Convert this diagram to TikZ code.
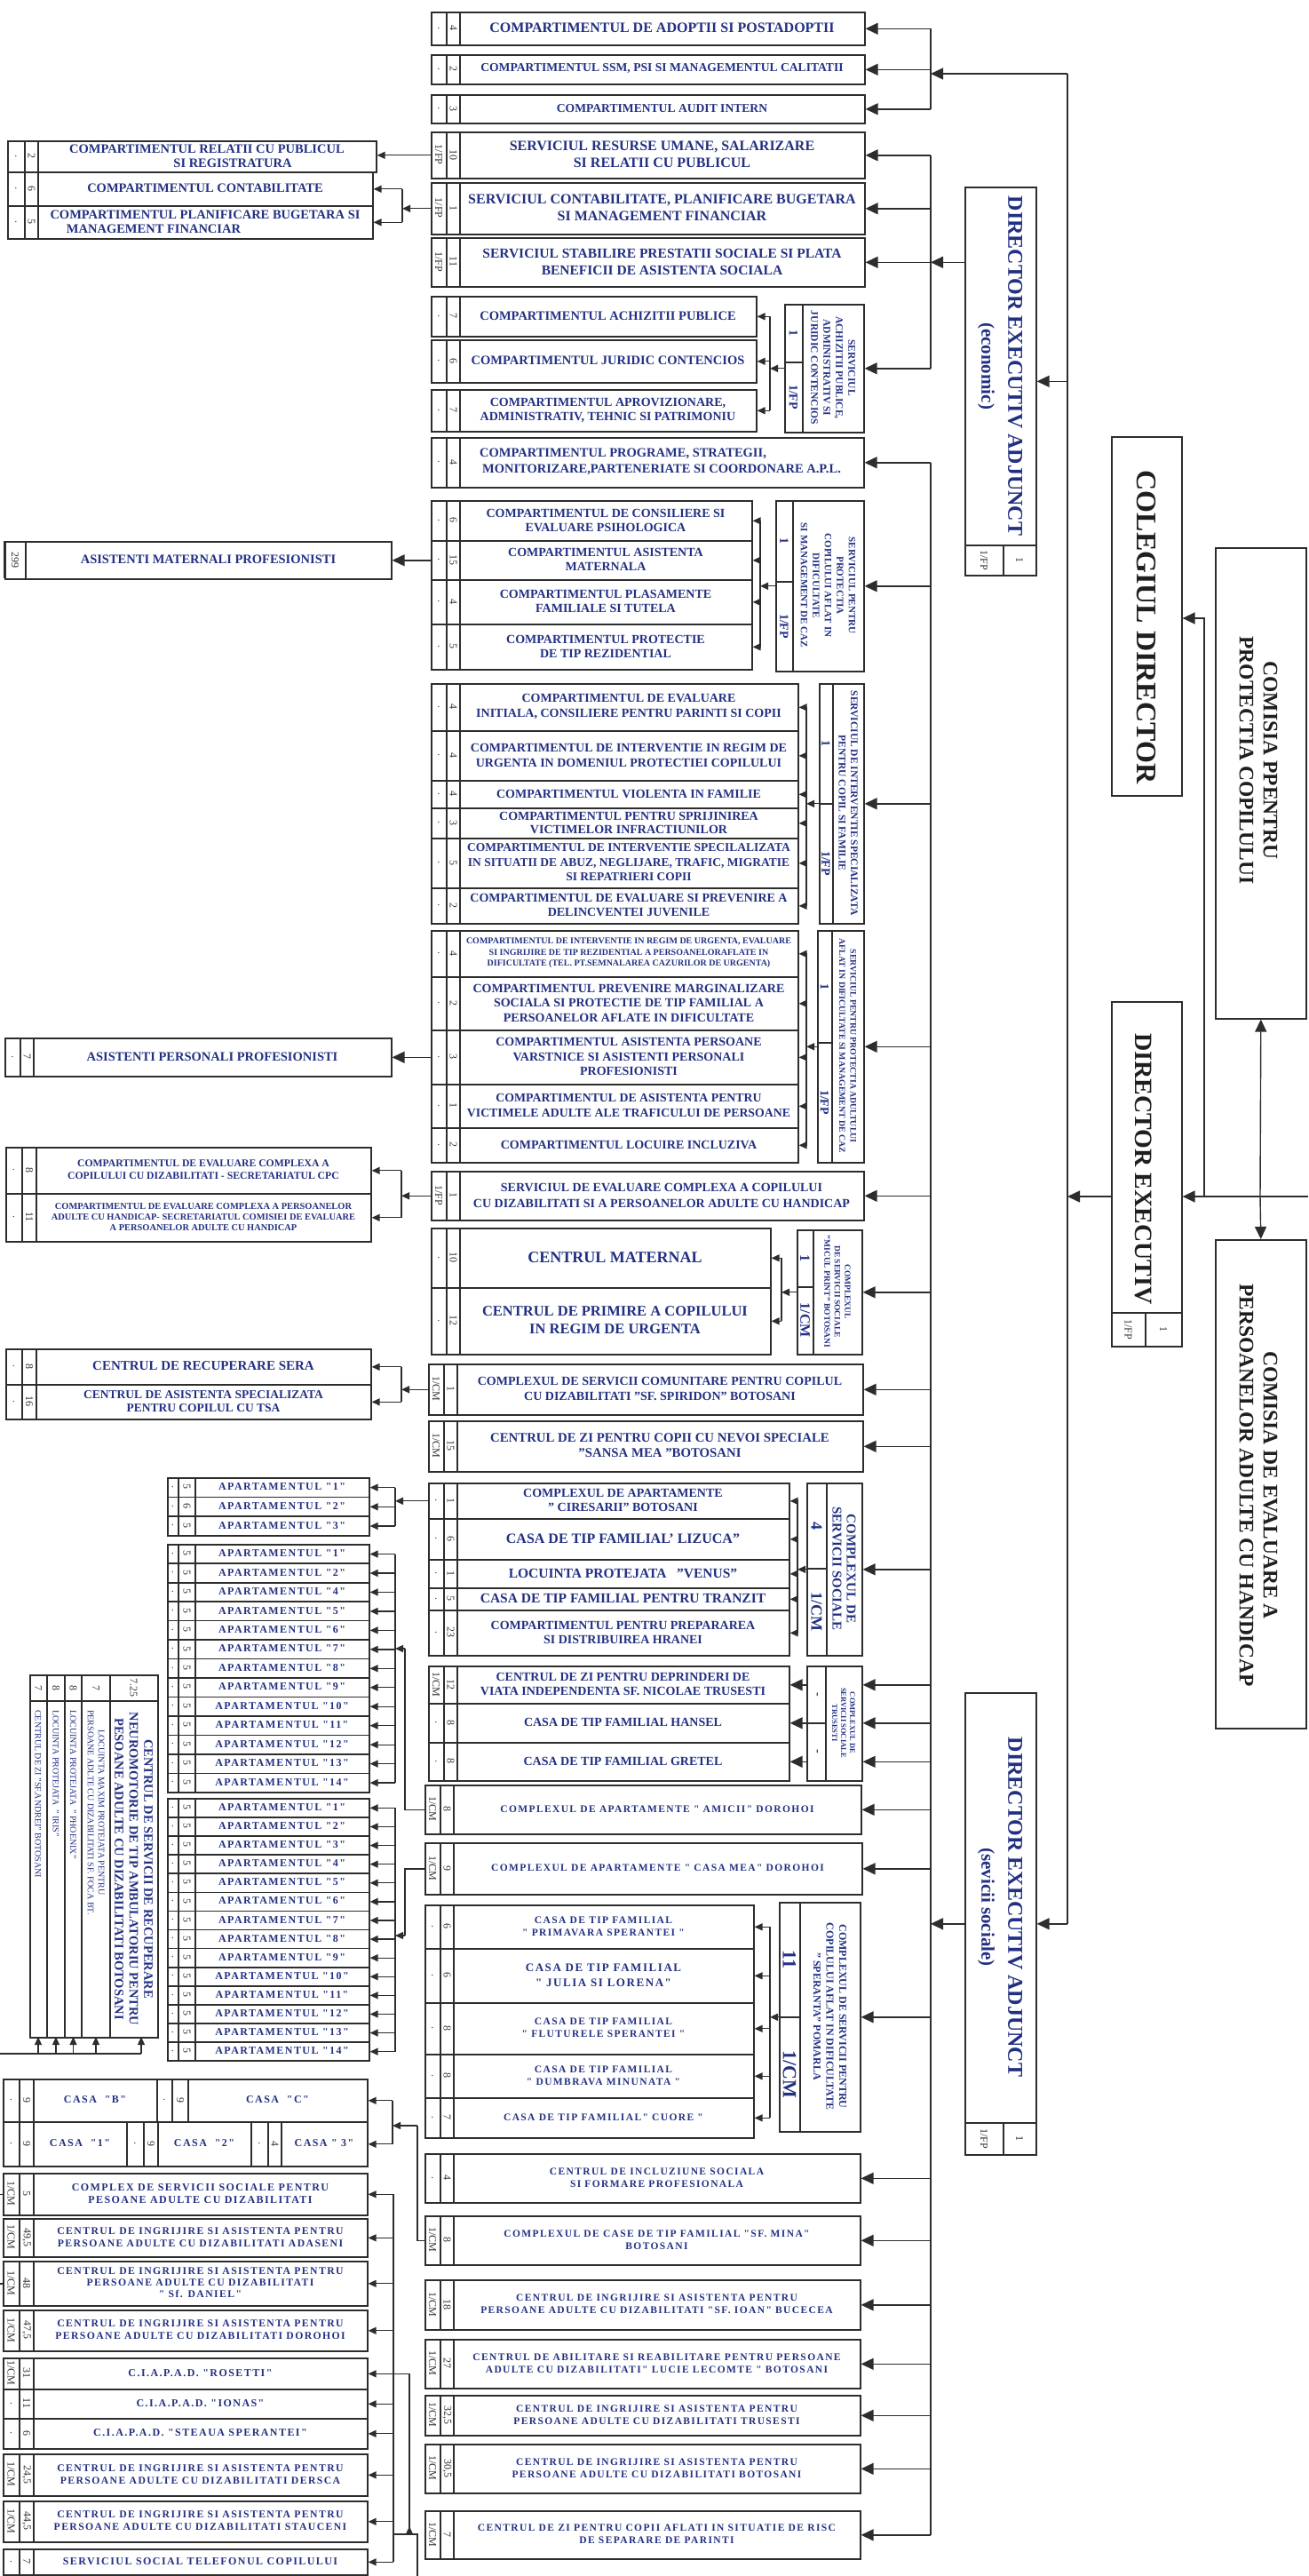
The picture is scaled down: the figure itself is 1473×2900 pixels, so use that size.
\documentclass[tikz,border=0pt]{standalone}
\usepackage{fontspec}
\setmainfont{Liberation Serif}
\newfontfamily\wide{Liberation Serif}[LetterSpace=12]
\usetikzlibrary{arrows.meta,calc}
\definecolor{lc}{RGB}{45,45,45}
\definecolor{tc}{RGB}{34,48,130}
\newcommand\F[2]{\fontsize{#1}{#2}\selectfont}
\def\cwa{18}\def\cwb{15}
\tikzset{
  bx/.style={draw=lc,line width=1.6pt,inner sep=0pt,anchor=north west},
  cl/.style={draw=lc,line width=1.3pt},
  tx/.style={text=tc,font=\bfseries,align=center,inner sep=0pt},
  bk/.style={text=black!88,font=\bfseries,align=center,inner sep=0pt},
  num/.style={rotate=-90,text=black!80,font=\F{12}{12},inner sep=0pt},
  ar/.style={draw=lc,line width=1.4pt,-{Triangle[length=14pt,width=13pt]}},
  sar/.style={draw=lc,line width=1.3pt,-{Triangle[length=9pt,width=8pt]}},
  ln/.style={draw=lc,line width=1.4pt},
}
\newcommand\rowb[9]{%
  \pgfmathsetmacro\rW{#4-#2}\pgfmathsetmacro\rH{#5-#3}%
  \pgfmathsetmacro\xA{#2+\cwa}\pgfmathsetmacro\xB{#2+\cwa+\cwb}%
  \pgfmathsetmacro\xM{(\xB+#4)/2}\pgfmathsetmacro\yM{(#3+#5)/2}%
  \pgfmathsetmacro\xCa{(#2+\xA)/2}\pgfmathsetmacro\xCb{(\xA+\xB)/2}%
  \node[bx,minimum width=\rW pt,minimum height=\rH pt] (#1) at (#2,#3) {};
  \draw[cl] (\xA,#3) -- (\xA,#5) (\xB,#3) -- (\xB,#5);
  \node[num] (#1-n1) at (\xCa,\yM) {#6};
  \node[num] (#1-n2) at (\xCb,\yM) {#7};
  \node[tx,font=\bfseries#8] (#1-t) at (\xM,\yM) {#9};
}
\newcommand\servb[9]{%
  \pgfmathsetmacro\rW{#4-#2}\pgfmathsetmacro\rH{#5-#3}%
  \pgfmathsetmacro\xCa{(#2+#6)/2}\pgfmathsetmacro\yTa{(#3+#7)/2}\pgfmathsetmacro\yTb{(#7+#5)/2}%
  \node[bx,minimum width=\rW pt,minimum height=\rH pt] (#1) at (#2,#3) {};
  \draw[cl] (#6,#3) -- (#6,#5) (#2,#7) -- (#6,#7);
  \node[tx,rotate=-90] (#1-a) at (\xCa,\yTa) {#8};
  \node[tx,rotate=-90] (#1-b) at (\xCa,\yTb) {#9};
}
\begin{document}
\begin{tikzpicture}[x=1pt,y=-1pt]
\useasboundingbox (0,0) rectangle (1473,2900);
% ================= CENTER COLUMN (top) =================
\rowb{r1}{485}{13}{973}{50}{.}{4}{\F{16}{18}}{COMPARTIMENTUL DE ADOPTII SI POSTADOPTII}
\rowb{r2}{485}{61}{973}{94}{.}{2}{\F{13.6}{16}}{COMPARTIMENTUL SSM, PSI SI MANAGEMENTUL CALITATII}
\rowb{r3}{485}{106}{973}{138}{.}{3}{\F{13.6}{16}}{COMPARTIMENTUL AUDIT INTERN}
\rowb{r4}{485}{148}{973}{200}{1/FP}{10}{\F{16}{19}}{SERVICIUL RESURSE UMANE, SALARIZARE\\SI RELATII CU PUBLICUL}
\rowb{r5}{485}{205}{973}{263}{1/FP}{1}{\F{16}{19}}{SERVICIUL CONTABILITATE, PLANIFICARE BUGETARA\\SI MANAGEMENT FINANCIAR}
\rowb{r6}{485}{267}{973}{322}{1/FP}{11}{\F{15.5}{19}}{SERVICIUL STABILIRE PRESTATII SOCIALE SI PLATA\\BENEFICII DE ASISTENTA SOCIALA}
% achizitii
\rowb{a1}{485}{333}{851}{378}{.}{7}{\F{14.5}{17}}{COMPARTIMENTUL ACHIZITII PUBLICE}
\rowb{a2}{485}{382}{851}{430}{.}{6}{\F{14.5}{17}}{COMPARTIMENTUL JURIDIC CONTENCIOS}
\rowb{a3}{485}{438}{851}{485}{.}{7}{\F{14}{16}}{COMPARTIMENTUL APROVIZIONARE,\\ADMINISTRATIV, TEHNIC SI PATRIMONIU}
\servb{sA}{883}{342}{972}{486}{904}{408}{\F{14}{14}1}{\F{14}{14}1/FP}
\node[tx,rotate=-90,font=\bfseries\F{11.5}{14}] (sA-x) at (938,414) {SERVICIUL\\ACHIZITII PUBLICE,\\ADMINISTRATIV SI\\JURIDIC CONTENCIOS};
\coordinate (bA) at (867,0);
\draw[ln] (bA |- a1.east) -- (bA |- a3.east);
\foreach \n in {a1,a2,a3} \draw[sar] (bA |- \n.east) -- (\n.east);
\draw[sar] (sA.west) -- (bA |- sA.west);
\rowb{r7}{485}{492}{972}{548}{.}{4}{\F{14.5}{18}}{COMPARTIMENTUL PROGRAME, STRATEGII,\hspace*{87pt}\\MONITORIZARE,PARTENERIATE SI COORDONARE A.P.L.}
% consiliere
\rowb{c1}{485}{563}{846}{608}{.}{6}{\F{14}{16}}{COMPARTIMENTUL  DE CONSILIERE SI\\EVALUARE  PSIHOLOGICA}
\rowb{c2}{485}{608}{846}{652}{.}{15}{\F{14}{16}}{COMPARTIMENTUL  ASISTENTA\\MATERNALA}
\rowb{c3}{485}{652}{846}{702}{.}{4}{\F{14}{16}}{COMPARTIMENTUL PLASAMENTE\\FAMILIALE SI TUTELA}
\rowb{c4}{485}{702}{846}{753}{.}{5}{\F{14}{16}}{COMPARTIMENTUL PROTECTIE\\DE TIP REZIDENTIAL}
\servb{sB}{873}{563}{972}{755}{893}{655}{\F{14}{14}1}{\F{14}{14}1/FP}
\node[tx,rotate=-90,font=\bfseries\F{11}{13.5}] (sB-x) at (932.5,659) {SERVICIUL PENTRU\\PROTECTIA\\COPILULUI AFLAT IN\\DIFICULTATE\\SI MANAGEMENT DE CAZ};
\coordinate (bB) at (856,0);
\draw[ln] (bB |- c1.east) -- (bB |- c4.east);
\foreach \n in {c1,c2,c3,c4} \draw[sar] (bB |- \n.east) -- (\n.east);
\draw[sar] (sB.west) -- (bB |- sB.west);
% evaluare initiala
\rowb{e1}{485}{769}{898}{822}{.}{4}{\F{14}{17}}{COMPARTIMENTUL DE EVALUARE\\INITIALA, CONSILIERE PENTRU PARINTI SI COPII}
\rowb{e2}{485}{822}{898}{878}{.}{4}{\F{14}{17}}{COMPARTIMENTUL DE INTERVENTIE IN REGIM DE\\URGENTA  IN DOMENIUL PROTECTIEI COPILULUI}
\rowb{e3}{485}{878}{898}{909}{.}{4}{\F{14}{17}}{COMPARTIMENTUL VIOLENTA IN FAMILIE}
\rowb{e4}{485}{909}{898}{943}{.}{3}{\F{14}{15}}{COMPARTIMENTUL PENTRU SPRIJINIREA\\VICTIMELOR INFRACTIUNILOR}
\rowb{e5}{485}{943}{898}{999}{.}{5}{\F{13.5}{16.5}}{COMPARTIMENTUL DE INTERVENTIE SPECILALIZATA\\IN SITUATII DE ABUZ, NEGLIJARE, TRAFIC, MIGRATIE\\SI REPATRIERI COPII}
\rowb{e6}{485}{999}{898}{1039}{.}{2}{\F{14}{16}}{COMPARTIMENTUL DE EVALUARE SI PREVENIRE A\\DELINCVENTEI JUVENILE}
\servb{sC}{922}{769}{972}{1039}{938}{905}{\F{14}{14}1}{\F{14}{14}1/FP}
\node[tx,rotate=-90,font=\bfseries\F{11.5}{13.5}] (sC-x) at (955,904) {SERVICIUL DE INTERVENTIE SPECIALIZATA\\PENTRU COPIL SI FAMILIE};
\coordinate (bC) at (908,0);
\draw[ln] (bC |- e1.east) -- (bC |- e6.east);
\foreach \n in {e1,e2,e3,e4,e5,e6} \draw[sar] (bC |- \n.east) -- (\n.east);
\draw[sar] (sC.west) -- (bC |- sC.west);
% persoane aflate in dificultate
\rowb{p1}{485}{1047}{898}{1099}{.}{4}{\F{10}{12.5}}{COMPARTIMENTUL DE INTERVENTIE IN REGIM DE URGENTA, EVALUARE\\SI INGRIJIRE DE TIP REZIDENTIAL A PERSOANELORAFLATE IN\\DIFICULTATE (TEL. PT.SEMNALAREA CAZURILOR DE URGENTA)}
\rowb{p2}{485}{1099}{898}{1159}{.}{2}{\F{14}{16.5}}{COMPARTIMENTUL  PREVENIRE  MARGINALIZARE\\SOCIALA SI PROTECTIE  DE TIP FAMILIAL  A\\PERSOANELOR AFLATE IN  DIFICULTATE}
\rowb{p3}{485}{1159}{898}{1220}{.}{3}{\F{14}{16.5}}{COMPARTIMENTUL ASISTENTA  PERSOANE\\VARSTNICE  SI ASISTENTI PERSONALI\\PROFESIONISTI}
\rowb{p4}{485}{1220}{898}{1269}{.}{1}{\F{13.8}{17}}{COMPARTIMENTUL DE ASISTENTA PENTRU\\VICTIMELE ADULTE ALE TRAFICULUI DE PERSOANE}
\rowb{p5}{485}{1269}{898}{1308}{.}{2}{\F{14}{17}}{COMPARTIMENTUL LOCUIRE INCLUZIVA}
\servb{sD}{920}{1047}{972}{1308}{937}{1174}{\F{14}{14}1}{\F{14}{14}1/FP}
\node[tx,rotate=-90,font=\bfseries\F{9.8}{12.5}] (sD-x) at (954.5,1177.5) {SERVICIUL PENTRU PROTECTIA ADULTULUI\\AFLAT IN DIFICULTATE SI MANAGEMENT DE CAZ};
\coordinate (bD) at (908,0);
\draw[ln] (bD |- p1.east) -- (bD |- p5.east);
\foreach \n in {p1,p2,p3,p4,p5} \draw[sar] (bD |- \n.east) -- (\n.east);
\draw[sar] (sD.west) -- (bD |- sD.west);
\rowb{r8}{485}{1318}{972}{1373}{1/FP}{1}{\F{14}{18}}{SERVICIUL DE EVALUARE COMPLEXA A COPILULUI\\CU DIZABILITATI SI A PERSOANELOR  ADULTE CU HANDICAP}
% maternal
\rowb{m1}{485}{1382}{867}{1449}{.}{10}{\F{18}{20}}{CENTRUL MATERNAL}
\rowb{m2}{485}{1449}{867}{1524}{.}{12}{\F{16.5}{20}}{CENTRUL DE PRIMIRE A COPILULUI\\IN REGIM DE URGENTA}
\servb{sE}{897}{1384}{970}{1524}{916}{1449}{\F{16}{16}1}{\F{16}{16}1/CM}
\node[tx,rotate=-90,font=\bfseries\F{9.5}{11.5}] (sE-x) at (943,1454) {COMPLEXUL\\DE SERVICII SOCIALE\\"MICUL PRINT" BOTOSANI};
\coordinate (bE) at (880,0);
\draw[ln] (bE |- m1.east) -- (bE |- m2.east);
\foreach \n in {m1,m2} \draw[sar] (bE |- \n.east) -- (\n.east);
\draw[sar] (sE.west) -- (bE |- sE.west);
\rowb{r9}{482}{1535}{971}{1592}{1/CM}{1}{\F{14}{17}}{COMPLEXUL DE SERVICII COMUNITARE PENTRU COPILUL\\CU DIZABILITATI "SF. SPIRIDON" BOTOSANI}
\rowb{r10}{482}{1599}{971}{1656}{1/CM}{15}{\F{14.8}{17}}{CENTRUL DE ZI PENTRU COPII CU NEVOI SPECIALE\\"SANSA MEA "BOTOSANI}
% ciresarii
\rowb{f1}{482}{1669}{888}{1709}{.}{1}{\F{14}{16}}{COMPLEXUL DE APARTAMENTE\\" CIRESARII" BOTOSANI}
\rowb{f2}{482}{1709}{888}{1755}{.}{6}{\F{16}{18}}{CASA DE TIP FAMILIAL' LIZUCA"}
\rowb{f3}{482}{1755}{888}{1787}{.}{1}{\F{15.5}{18}}{LOCUINTA PROTEJATA~~~"VENUS"}
\rowb{f4}{482}{1787}{888}{1812}{.}{5}{\F{15.5}{18}}{CASA DE TIP FAMILIAL PENTRU TRANZIT}
\rowb{f5}{482}{1812}{888}{1863}{.}{23}{\F{14}{16}}{COMPARTIMENTUL PENTRU PREPARAREA\\SI DISTRIBUIREA HRANEI}
\servb{sF}{908}{1669}{970}{1863}{931}{1766}{\F{18}{18}4}{\F{18}{18}1/CM}
\node[tx,rotate=-90,font=\bfseries\F{15}{16}] (sF-x) at (950.5,1766) {COMPLEXUL DE\\SERVICII SOCIALE};
\coordinate (bF) at (898,0);
\draw[ln] (bF |- f1.east) -- (bF |- f5.east);
\foreach \n in {f1,f2,f3,f4,f5} \draw[sar] (bF |- \n.east) -- (\n.east);
\draw[sar] (sF.west) -- (bF |- sF.west);
% trusesti
\rowb{g1}{482}{1875}{888}{1917}{1/CM}{12}{\F{14}{16}}{CENTRUL DE ZI PENTRU DEPRINDERI DE\\VIATA INDEPENDENTA  SF. NICOLAE TRUSESTI}
\rowb{g2}{482}{1917}{888}{1961}{.}{8}{\F{14}{16}}{CASA DE TIP FAMILIAL  HANSEL}
\rowb{g3}{482}{1961}{888}{2004}{.}{8}{\F{14}{16}}{CASA DE TIP FAMILIAL  GRETEL}
\servb{sG}{908}{1875}{970}{2004}{930}{1940}{\F{14}{14}-}{\F{14}{14}-}
\node[tx,rotate=-90,font=\bfseries\F{8.5}{10}] (sG-x) at (950,1939.5) {COMPLEXUL DE\\SERVICII  SOCIALE\\TRUSESTI};
\foreach \n in {g1,g2,g3} \draw[ar] (sG.west |- \n.east) -- (\n.east);
% lower center (wide)
\rowb{r11}{478}{2009}{969}{2064}{1/CM}{8}{\wide\F{11.5}{14}}{COMPLEXUL DE APARTAMENTE " AMICII" DOROHOI}
\rowb{r12}{478}{2074}{970}{2132}{1/CM}{9}{\wide\F{11.5}{14}}{COMPLEXUL DE APARTAMENTE " CASA MEA" DOROHOI}
\rowb{h1}{478}{2144}{848}{2193}{.}{6}{\wide\F{11.5}{14}}{CASA DE TIP FAMILIAL\\" PRIMAVARA SPERANTEI "}
\rowb{h2}{478}{2193}{848}{2254}{.}{6}{\wide\F{13}{17}}{CASA DE TIP FAMILIAL\\" JULIA SI LORENA"}
\rowb{h3}{478}{2254}{848}{2312}{.}{8}{\wide\F{11.5}{14}}{CASA DE TIP FAMILIAL\\" FLUTURELE SPERANTEI "}
\rowb{h4}{478}{2312}{848}{2361}{.}{8}{\wide\F{11.5}{14}}{CASA DE TIP FAMILIAL\\" DUMBRAVA MINUNATA "}
\rowb{h5}{478}{2361}{848}{2406}{.}{7}{\wide\F{11.5}{14}}{CASA DE TIP FAMILIAL" CUORE "}
\servb{sH}{877}{2141}{968}{2399}{901}{2271}{\F{22}{22}11}{\F{22}{22}1/CM}
\node[tx,rotate=-90,font=\bfseries\F{12}{14.5}] (sH-x) at (934.5,2270) {COMPLEXUL DE SERVICII PENTRU\\COPILULUI AFLAT  IN DIFICULTATE\\" SPERANTA" POMARLA};
\coordinate (bH) at (867,0);
\draw[ln] (bH |- h1.east) -- (bH |- h5.east);
\foreach \n in {h1,h2,h3,h4,h5} \draw[sar] (bH |- \n.east) -- (\n.east);
\draw[sar] (sH.west) -- (bH |- sH.west);
\rowb{r13}{478}{2424}{968}{2479}{.}{4}{\wide\F{11.5}{14}}{CENTRUL DE INCLUZIUNE SOCIALA\\SI FORMARE PROFESIONALA}
\rowb{r14}{478}{2494}{968}{2549}{1/CM}{8}{\wide\F{11.5}{14}}{COMPLEXUL DE CASE DE TIP FAMILIAL "SF. MINA"\\BOTOSANI}
\rowb{r15}{478}{2566}{968}{2622}{1/CM}{18}{\wide\F{11.5}{14}}{CENTRUL DE INGRIJIRE SI ASISTENTA  PENTRU\\PERSOANE ADULTE CU DIZABILITATI  "SF. IOAN" BUCECEA}
\rowb{r16}{478}{2633}{968}{2688}{1/CM}{27}{\wide\F{11.5}{14}}{CENTRUL DE ABILITARE SI REABILITARE  PENTRU PERSOANE\\ADULTE CU DIZABILITATI" LUCIE LECOMTE " BOTOSANI}
\rowb{r17}{478}{2696}{968}{2741}{1/CM}{32,5}{\wide\F{11.5}{14}}{CENTRUL DE INGRIJIRE SI ASISTENTA  PENTRU\\PERSOANE ADULTE CU DIZABILITATI  TRUSESTI}
\rowb{r18}{478}{2751}{968}{2806}{1/CM}{30,5}{\wide\F{11.5}{14}}{CENTRUL DE INGRIJIRE SI ASISTENTA  PENTRU\\PERSOANE ADULTE CU DIZABILITATI  BOTOSANI}
\rowb{r19}{478}{2826}{968}{2880}{1/CM}{7}{\wide\F{11.5}{14}}{CENTRUL DE ZI PENTRU COPII AFLATI IN SITUATIE DE RISC\\DE SEPARARE DE PARINTI}
% ================= LEFT COLUMN =================
\def\cwa{20}\def\cwb{15}
\rowb{L1}{8}{158}{423}{193}{.}{2}{\F{14.5}{16}}{COMPARTIMENTUL RELATII CU PUBLICUL\\\hspace*{58pt}SI REGISTRATURA}
\rowb{L2}{8}{193}{419}{231}{.}{6}{\F{14.5}{16}}{COMPARTIMENTUL CONTABILITATE}
\rowb{L3}{8}{231}{419}{268}{.}{5}{\F{14.5}{16}}{COMPARTIMENTUL  PLANIFICARE BUGETARA SI\\MANAGEMENT FINANCIAR\hspace*{116pt}}
\draw[sar] (r4.west) -- (L1.east |- r4.west);
\coordinate (bL1) at (453,0);
\draw[ln] (bL1 |- L2.east) -- (bL1 |- L3.east);
\foreach \n in {L2,L3} \draw[sar] (bL1 |- \n.east) -- (\n.east);
\draw[sar] (r5.west) -- (bL1 |- r5.west);
\def\cwa{0}\def\cwb{24}
\rowb{L4}{5}{609}{440}{651}{}{299}{\F{14.5}{16}}{ASISTENTI MATERNALI PROFESIONISTI}
\draw[ar] (c2.west) -- (L4.east);
\def\cwa{18}\def\cwb{15}
\rowb{L5}{5}{1168}{440}{1211}{.}{7}{\F{14.5}{16}}{ASISTENTI PERSONALI PROFESIONISTI}
\draw[ar] (p3.west) -- (L5.east);
\def\cwa{19}\def\cwb{16}
\rowb{L6}{6}{1291}{417}{1343}{.}{8}{\F{11.7}{14}}{COMPARTIMENTUL  DE EVALUARE COMPLEXA A\\COPILULUI CU DIZABILITATI - SECRETARIATUL CPC}
\rowb{L7}{6}{1343}{417}{1397}{.}{11}{\F{10.4}{12}}{COMPARTIMENTUL  DE EVALUARE COMPLEXA A PERSOANELOR\\ADULTE CU HANDICAP- SECRETARIATUL COMISIEI DE EVALUARE\\A PERSOANELOR ADULTE CU HANDICAP}
\coordinate (bL2) at (452,0);
\draw[ln] (bL2 |- L6.east) -- (bL2 |- L7.east);
\foreach \n in {L6,L7} \draw[sar] (bL2 |- \n.east) -- (\n.east);
\draw[sar] (r8.west) -- (bL2 |- r8.west);
\rowb{L8}{6}{1518}{417}{1558}{.}{8}{\F{15}{17}}{CENTRUL DE RECUPERARE SERA}
\rowb{L9}{6}{1558}{417}{1597}{.}{16}{\F{13.5}{15}}{CENTRUL DE ASISTENTA SPECIALIZATA\\PENTRU COPILUL CU TSA}
\draw[ln] (bL2 |- L8.east) -- (bL2 |- L9.east);
\foreach \n in {L8,L9} \draw[sar] (bL2 |- \n.east) -- (\n.east);
\draw[sar] (r9.west) -- (bL2 |- r9.west);
% apartments
\def\cwa{13}\def\cwb{19}
\coordinate (bAp) at (445,0);
\foreach [count=\i] \lab/\nn in {1/5,2/6,3/5} {
  \pgfmathsetmacro\ya{1663+(\i-1)*21.67}\pgfmathsetmacro\yb{\ya+21.67}
  \rowb{apA\i}{188}{\ya}{415}{\yb}{.}{\nn}{\wide\F{12}{14}}{APARTAMENTUL "\lab"}
}
\foreach [count=\i] \lab in {1,2,4,5,6,7,8,9,10,11,12,13,14} {
  \pgfmathsetmacro\ya{1738+(\i-1)*21.46}\pgfmathsetmacro\yb{\ya+21.46}
  \rowb{apB\i}{188}{\ya}{415}{\yb}{.}{5}{\wide\F{12}{14}}{APARTAMENTUL "\lab"}
}
\foreach [count=\i] \lab in {1,...,14} {
  \pgfmathsetmacro\ya{2024+(\i-1)*21.1}\pgfmathsetmacro\yb{\ya+21.1}
  \rowb{apC\i}{188}{\ya}{415}{\yb}{.}{5}{\wide\F{12}{14}}{APARTAMENTUL "\lab"}
}
\draw[ln] (bAp |- apA1.east) -- (bAp |- apA3.east);
\foreach \i in {1,2,3} \draw[sar] (bAp |- apA\i.east) -- (apA\i.east);
\draw[sar] (f1.west) -- (bAp |- f1.west);
\draw[ln] (bAp |- apB1.east) -- (bAp |- apB13.east);
\foreach \i in {1,...,13} \draw[sar] (bAp |- apB\i.east) -- (apB\i.east);
\coordinate (kB) at (456,1856);
\draw[ln] (r11.west) -| (kB);
\draw[sar] (kB) -- (bAp |- kB);
\draw[ln] (bAp |- apC1.east) -- (bAp |- apC14.east);
\foreach \i in {1,...,14} \draw[sar] (bAp |- apC\i.east) -- (apC\i.east);
\coordinate (kC) at (456,2179);
\draw[ln] (r12.west) -| (kC);
\draw[sar] (kC) -- (bAp |- kC);
% rotated box (recuperare neuromotorie)
\node[bx,minimum width=144pt,minimum height=408pt] (rb) at (33,1885) {};
\draw[cl] (53,1885) -- (53,2293) (73,1885) -- (73,2293) (92,1885) -- (92,2293) (124,1885) -- (124,2293) (33,1915) -- (177,1915);
\node[num] (rbn1) at (43,1900) {7};
\node[num] (rbn2) at (63,1900) {8};
\node[num] (rbn3) at (82.5,1900) {8};
\node[num] (rbn4) at (108,1900) {7};
\node[num] (rbn5) at (150.5,1900) {7.25};
\node[tx,rotate=-90,anchor=west,font=\F{10}{11}] (rbt1) at (43,1925) {CENTRUL DE ZI "SF.ANDREI" BOTOSANI};
\node[tx,rotate=-90,anchor=west,font=\F{10}{11}] (rbt2) at (63,1925) {LOCUINTA PROTEJATA~~" IRIS"};
\node[tx,rotate=-90,anchor=west,font=\F{10}{11}] (rbt3) at (82.5,1925) {LOCUINTA PROTEJATA~~" PHOENIX"};
\node[tx,rotate=-90,anchor=west,font=\F{10}{12}] (rbt4) at (108,1925) {LOCUINTA MAXIM PROTEJATA PENTRU\\PERSOANE ADLTE CU DIZABILITATI SF. FOCA BT.};
\node[tx,rotate=-90,font=\bfseries\F{14.5}{16.5}] (rbt5) at (150.5,2104) {CENTRUL DE SERVICII DE RECUPERARE\\NEUROMOTORIE DE TIP AMBULATORIU PENTRU\\PESOANE ADULTE CU DIZABILITATI BOTOSANI};
\coordinate (rbl) at (0,2312);
\draw[ln] (rbl) -- (159,2312);
\foreach \x in {43,63,82.5,108,159} \draw[sar] (\x,2312) -- (\x,2293);
% casa group
\def\cwa{19}\def\cwb{16}
\rowb{cB}{3}{2340}{176}{2388}{.}{9}{\wide\F{12}{14}}{CASA~~"B"}
\def\cwa{18}\def\cwb{18}
\rowb{cC}{176}{2340}{413}{2388}{.}{9}{\wide\F{12}{14}}{CASA~~"C"}
\def\cwa{19}\def\cwb{16}
\rowb{cX1}{3}{2388}{142}{2438}{.}{9}{\wide\F{12}{14}}{CASA~~"1"}
\def\cwa{20}\def\cwb{16}
\rowb{cX2}{142}{2388}{282}{2438}{.}{9}{\wide\F{12}{14}}{CASA~~"2"}
\def\cwa{20}\def\cwb{15}
\rowb{cX3}{282}{2388}{413}{2438}{.}{4}{\wide\F{12}{14}}{CASA " 3"}
\coordinate (bCs) at (442,0);
\coordinate (kS) at (470,2393);
\draw[ln] (bCs |- cC.east) -- (bCs |- cX3.east);
\foreach \n in {cC,cX3} \draw[sar] (bCs |- \n.east) -- (\n.east);
\draw[ln] (r14.west) -| (kS);
\draw[sar] (kS) -- (bCs |- kS);
% lower left
\def\cwa{19}\def\cwb{16}
\rowb{LB1}{3}{2446}{413}{2493}{1/CM}{5}{\wide\F{12}{14}}{COMPLEX DE SERVICII SOCIALE  PENTRU\\PESOANE ADULTE CU DIZABILITATI}
\rowb{LB2}{3}{2497}{413}{2540}{1/CM}{49,5}{\wide\F{11.7}{14}}{CENTRUL DE INGRIJIRE SI ASISTENTA PENTRU\\PERSOANE ADULTE CU DIZABILITATI  ADASENI}
\rowb{LB3}{3}{2545}{413}{2595}{1/CM}{48}{\wide\F{11.7}{13}}{CENTRUL DE INGRIJIRE SI ASISTENTA PENTRU\\PERSOANE ADULTE CU DIZABILITATI\\" Sf. DANIEL"}
\rowb{LB4}{3}{2600}{413}{2646}{1/CM}{47,5}{\wide\F{11.7}{14}}{CENTRUL DE INGRIJIRE SI ASISTENTA PENTRU\\PERSOANE ADULTE CU DIZABILITATI DOROHOI}
\rowb{LB5}{3}{2654}{413}{2689}{1/CM}{31}{\wide\F{12}{14}}{C.I.A.P.A.D. "ROSETTI"}
\rowb{LB6}{3}{2689}{413}{2722}{.}{11}{\wide\F{12}{14}}{C.I.A.P.A.D. "IONAS"}
\rowb{LB7}{3}{2722}{413}{2756}{.}{6}{\wide\F{12}{14}}{C.I.A.P.A.D. "STEAUA SPERANTEI"}
\rowb{LB8}{3}{2762}{413}{2809}{1/CM}{24,5}{\wide\F{11.7}{14}}{CENTRUL DE INGRIJIRE SI ASISTENTA PENTRU\\PERSOANE ADULTE CU DIZABILITATI  DERSCA}
\rowb{LB9}{3}{2815}{413}{2861}{1/CM}{44,5}{\wide\F{11.7}{14}}{CENTRUL DE INGRIJIRE SI ASISTENTA PENTRU\\PERSOANE ADULTE CU DIZABILITATI STAUCENI}
\rowb{LB10}{3}{2869}{413}{2898}{.}{7}{\wide\F{12}{14}}{SERVICIUL SOCIAL TELEFONUL COPILULUI}
\coordinate (bLB) at (443,0);
\coordinate (bLB2) at (461,0);
\draw[ln] (bLB |- LB1.east) -- (bLB |- LB10.east);
\foreach \n in {LB1,LB2,LB3,LB4,LB6,LB7,LB8,LB9,LB10} \draw[sar] (bLB |- \n.east) -- (\n.east);
\draw[sar] (bLB2 |- LB5.east) -- (LB5.east);
\coordinate (kL) at (470,2853);
\draw[ln] (bLB2 |- LB5.east) -- (bLB2 |- kL);
\draw[ln] (470,2900) -- (kL) -- (bLB |- kL);
\draw[sar] (bLB2 |- kL) -- ++(0,-9);
\draw[ln] (LB1.west) -- ++(-3,0);
\draw[ln] (LB3.west) -- ++(-3,0);
% ================= RIGHT SIDE =================
\node[bx,minimum width=80pt,minimum height=437pt] (dae) at (1086,210) {};
\draw[cl] (1086,614) -- (1166,614) (1130,614) -- (1130,647);
\node[num] (dae-n1) at (1108,630.5) {1/FP};
\node[num] (dae-n2) at (1148,630.5) {1};
\node[tx,rotate=-90,font=\bfseries\F{24}{30}] (dae-t) at (1126,412) {DIRECTOR EXECUTIV ADJUNCT\\{\F{21}{30}(economic)}};
\node[bx,minimum width=80pt,minimum height=520pt] (das) at (1086,1905) {};
\draw[cl] (1086,2390) -- (1166,2390) (1130,2390) -- (1130,2425);
\node[num] (das-n1) at (1108,2407.5) {1/FP};
\node[num] (das-n2) at (1148,2407.5) {1};
\node[tx,rotate=-90,font=\bfseries\F{24}{30}] (das-t) at (1126,2147) {DIRECTOR EXECUTIV ADJUNCT\\{\F{21}{30}(sevicii sociale)}};
\node[bx,minimum width=79pt,minimum height=388pt] (dex) at (1251,1127) {};
\draw[cl] (1251,1478) -- (1330,1478) (1290,1478) -- (1290,1515);
\node[num] (dex-n1) at (1270.5,1496.5) {1/FP};
\node[num] (dex-n2) at (1310,1496.5) {1};
\node[bk,rotate=-90,font=\bfseries\F{28}{30}] (dex-t) at (1288,1316) {DIRECTOR EXECUTIV};
\node[bx,minimum width=79pt,minimum height=404pt] (cdir) at (1251,491) {};
\node[bk,rotate=-90,font=\bfseries\F{32}{34}] (cdir-t) at (1290.5,706) {COLEGIUL DIRECTOR};
\node[bx,minimum width=102pt,minimum height=530pt] (cm1) at (1368,616) {};
\node[bk,rotate=-90,font=\bfseries\F{23.5}{27}] (cm1-t) at (1417,856) {COMISIA PPENTRU\\PROTECTIA COPILULUI};
\node[bx,minimum width=102pt,minimum height=550pt] (cm2) at (1368,1395) {};
\node[bk,rotate=-90,font=\bfseries\F{23.5}{27}] (cm2-t) at (1417,1672) {COMISIA DE EVALUARE A\\PERSOANELOR ADULTE CU HANDICAP};
% spine and brackets
\coordinate (sp) at (1202,0);
\coordinate (b1) at (1048,0);
\coordinate (b3) at (1048,0);
\coordinate (sptop) at (1202,83);
\draw[ln] (sptop) -- (sp |- das.east);
\draw[ar] (sptop) -- (b1 |- sptop);
\draw[ln] (b1 |- r1.east) -- (b1 |- r3.east);
\foreach \n in {r1,r2,r3} \draw[ar] (b1 |- \n.east) -- (\n.east);
\draw[ln] (b1 |- r4.east) -- (b1 |- sA.east);
\foreach \n in {r4,r5,r6,sA} \draw[ar] (b1 |- \n.east) -- (\n.east);
\draw[ar] (dae.west |- r6.east) -- (b1 |- r6.east);
\draw[ar] (sp |- dae.east) -- (dae.east);
\draw[ar] (dex.west |- 0,1347) -- (sp |- 0,1347);
\draw[ar] (sp |- das.east) -- (das.east);
\draw[ar] (das.west) -- (b3 |- das.west);
\draw[ln] (b3 |- r7.east) -- (b3 |- r19.east);
\foreach \n in {r7,sB,sC,sD,r8,sE,r9,r10,sF,r11,r12,sH,r13,r14,r15,r16,r17,r18,r19} \draw[ar] (b3 |- \n.east) -- (\n.east);
\foreach \n in {g1,g2,g3} \draw[ar] (b3 |- \n.east) -- (sG.east |- \n.east);
% director executiv relations
\coordinate (rin) at (1473,1347);
\coordinate (kR) at (1356,696);
\coordinate (kQ) at (1419,1347);
\draw[ar] (rin) -- (dex.east |- rin);
\draw[ar] (kR |- rin) -- (kR) -- (cdir.east |- kR);
\draw[ar] (kQ) -- (cm1.south);
\draw[ar] (kQ) -- (cm2.north);
\end{tikzpicture}
\end{document}
